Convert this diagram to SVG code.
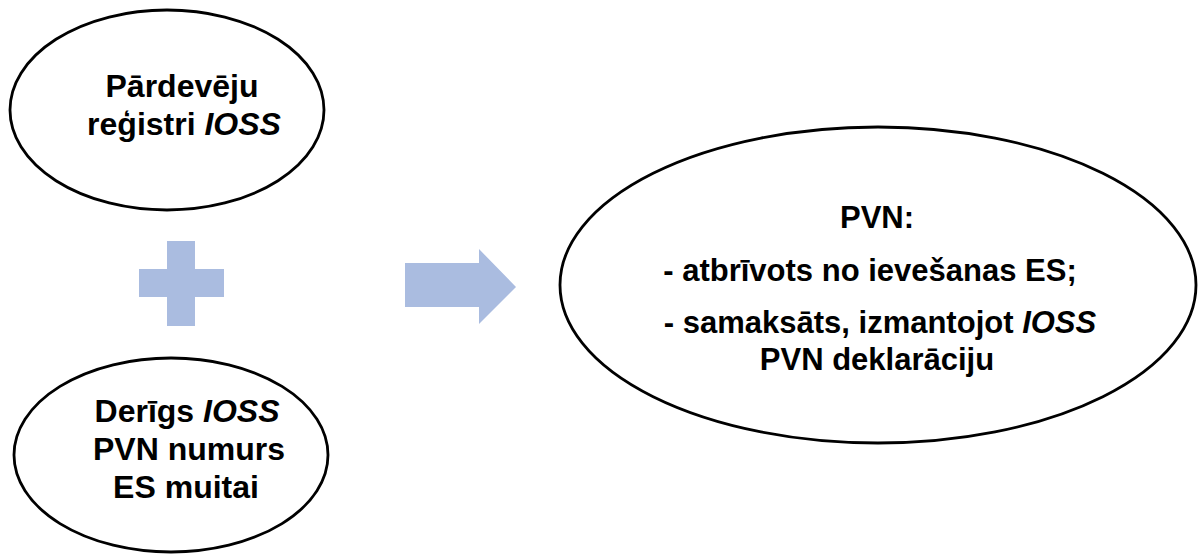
<svg xmlns="http://www.w3.org/2000/svg" width="1198" height="555" viewBox="0 0 1198 555">
<style>
.node{fill:#ffffff;stroke:#000000;stroke-width:2.8}
.lbl{font-family:"Liberation Sans",Arial,sans-serif;font-weight:bold;fill:#000000;text-anchor:middle}
.big{font-size:32px}
.mid{font-size:31px}
.it{font-style:italic}
.sym{fill:#AABCE0;stroke:none}
</style>
<rect x="0" y="0" width="1198" height="555" fill="#ffffff"/>
<g id="node-seller-register">
<ellipse class="node" cx="167" cy="110" rx="157" ry="100"/>
<text class="lbl big" x="182" y="97">Pārdevēju</text>
<text class="lbl big" x="184" y="135">reģistri <tspan class="it">IOSS</tspan></text>
</g>
<g id="node-valid-number">
<ellipse class="node" cx="171" cy="455" rx="157" ry="97"/>
<text class="lbl big" x="187" y="422">Derīgs <tspan class="it">IOSS</tspan></text>
<text class="lbl big" x="189" y="460">PVN numurs</text>
<text class="lbl big" x="186" y="498">ES muitai</text>
</g>
<g id="node-vat-result">
<ellipse class="node" cx="878" cy="285" rx="318" ry="158"/>
<text class="lbl mid" x="877" y="228">PVN:</text>
<text class="lbl mid" x="870" y="281">- atbrīvots no ievešanas ES;</text>
<text class="lbl mid" x="880" y="333">- samaksāts, izmantojot <tspan class="it">IOSS</tspan></text>
<text class="lbl mid" x="877" y="370">PVN deklarāciju</text>
</g>
<g id="connectors">
<g id="plus">
<rect class="sym" x="139" y="269" width="85" height="28"/>
<rect class="sym" x="167" y="241" width="28" height="85"/>
</g>
<polygon id="arrow" class="sym" points="405,263 479,263 479,249 516,287 479,324 479,307 405,307"/>
</g>
</svg>
